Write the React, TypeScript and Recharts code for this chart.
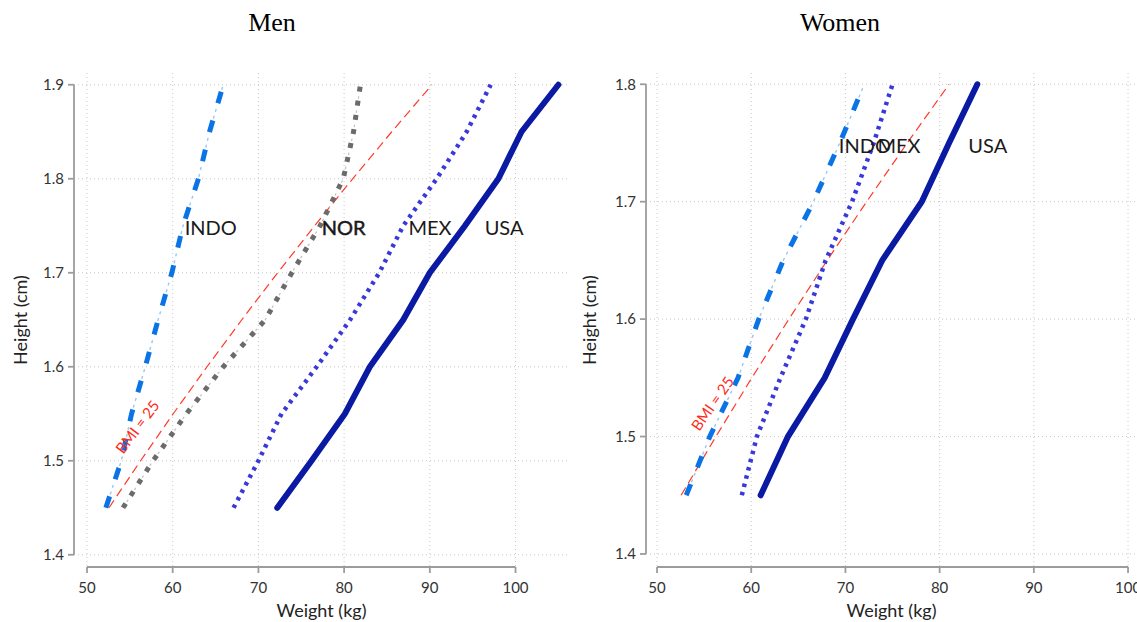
import React from 'react';
import { LineChart, Line, XAxis, YAxis, CartesianGrid, ReferenceDot } from 'recharts';

// ---------- data ----------
const MEN_HEIGHTS = [1.45, 1.5, 1.55, 1.6, 1.65, 1.7, 1.75, 1.8, 1.85, 1.9];
const MEN_INDO = [52.2, 54.0, 55.2, 56.8, 58.3, 59.9, 61.2, 63.0, 64.3, 65.9];
const MEN_NOR = [54.2, 57.7, 61.6, 65.9, 70.8, 73.9, 77.2, 79.9, 81.1, 81.9];
const MEN_MEX = [67.1, 70.0, 72.7, 76.8, 80.7, 84.1, 86.9, 90.8, 94.3, 97.1];
const MEN_USA = [72.2, 76.2, 80.1, 83.0, 86.9, 90.0, 94.1, 98.0, 100.7, 105.0];
const MEN_BMI25 = [52.56, 56.25, 60.06, 64.0, 68.06, 72.25, 76.56, 81.0, 85.56, 90.25];

const WOMEN_HEIGHTS = [1.45, 1.5, 1.55, 1.6, 1.65, 1.7, 1.75, 1.8];
const WOMEN_INDO = [53.1, 55.6, 58.6, 60.8, 63.4, 66.6, 69.4, 72.0];
const WOMEN_MEX = [59.0, 60.6, 63.1, 65.8, 67.9, 70.7, 73.0, 75.0];
const WOMEN_USA = [61.0, 63.9, 67.8, 70.8, 73.9, 78.1, 81.0, 84.0];
const WOMEN_BMI25 = [52.56, 56.25, 60.06, 64.0, 68.06, 72.25, 76.56, 81.0];

const WEIGHT_TICKS = [50, 60, 70, 80, 90, 100];
const MEN_HEIGHT_TICKS = [1.4, 1.5, 1.6, 1.7, 1.8, 1.9];
const WOMEN_HEIGHT_TICKS = [1.4, 1.5, 1.6, 1.7, 1.8];

const MEN_LABELS = ['INDO', 'NOR', 'MEX', 'USA'];
const MEN_LABEL_W = [61.4, 77.4, 87.5, 96.4];
const WOMEN_LABELS = ['INDO', 'MEX', 'USA'];
const WOMEN_LABEL_W = [69.3, 73.4, 83.05];
const LABEL_H = 1.7475;

const BMI_TEXT = 'BMI = 25';
const MEN_BMI_LABEL = { w: 55.9, h: 1.536 };
const WOMEN_BMI_LABEL = { w: 55.9, h: 1.528 };

const TITLES = ['Men', 'Women'];
const X_TITLE = 'Weight (kg)';
const Y_TITLE = 'Height (cm)';

// ---------- styles ----------
const SANS = "Lato, 'Open Sans', 'DejaVu Sans', sans-serif";
const SERIF = "'Liberation Serif', 'Times New Roman', serif";
const AXIS_GRAY = '#9c9c9c';

type Stroke = { stroke: string; width: number; dash?: string; cap?: 'butt' | 'round' };
const STYLES: Record<string, Stroke[]> = {
  AXIS: [{ stroke: AXIS_GRAY, width: 1.8 }],
  BMI: [{ stroke: '#ff3a2a', width: 1.2, dash: '9 5' }],
  INDO: [
    { stroke: '#0a74e6', width: 5, dash: '12 18' },
    { stroke: '#9ac6f6', width: 1.4, dash: '0 14 3 4 3 6' },
  ],
  NOR: [
    { stroke: '#6b6b6b', width: 5, dash: '5 9.3' },
    { stroke: '#c0c0c0', width: 1.2, dash: '0 7 2.5 4.8' },
  ],
  MEX: [{ stroke: '#3838dc', width: 4.5, dash: '3.5 5' }],
  USA: [{ stroke: '#0a1aa3', width: 6, cap: 'round' }],
};

const toSeries = (heights: number[], weights: number[]) =>
  heights.map((h, i) => ({ w: weights[i], h }));

type Pt = { w: number; h: number };
type PanelProps = {
  width: number;
  marginRight: number;
  yAxisWidth: number;
  xDomain: [number, number];
  yDomain: [number, number];
  yTicks: number[];
  yLabelOffset: number;
  series: { key: string; data: Pt[] }[];
  labels: string[];
  labelW: number[];
  bmiLabel: Pt;
  bmiAngle: number;
};

function Panel(p: PanelProps) {
  const tickStyle = { fill: '#333', fontSize: 15, fontFamily: SANS };
  // Stata-style detached axis lines, spanning the first to the last tick
  const xAxisLine: Pt[] = [
    { w: WEIGHT_TICKS[0], h: p.yDomain[0] },
    { w: WEIGHT_TICKS[WEIGHT_TICKS.length - 1], h: p.yDomain[0] },
  ];
  const yAxisLine: Pt[] = [
    { w: p.xDomain[0], h: p.yTicks[0] },
    { w: p.xDomain[0], h: p.yTicks[p.yTicks.length - 1] },
  ];
  const all = [
    { key: 'AXIS', data: xAxisLine },
    { key: 'AXIS', data: yAxisLine },
    ...p.series,
  ];
  return (
    <LineChart
      width={p.width}
      height={622}
      margin={{ top: 73, right: p.marginRight, bottom: 0, left: 0 }}
    >
      <CartesianGrid stroke="#c9c9c9" strokeDasharray="1 3" strokeWidth={1} syncWithTicks />
      <XAxis
        dataKey="w"
        type="number"
        domain={p.xDomain}
        ticks={WEIGHT_TICKS}
        interval={0}
        height={55}
        axisLine={false}
        tickLine={{ stroke: AXIS_GRAY, strokeWidth: 1.8 }}
        tickSize={6}
        tickMargin={9}
        tick={tickStyle}
        label={{
          value: X_TITLE,
          position: 'insideBottom',
          offset: 5,
          fill: '#222',
          fontSize: 18,
          fontFamily: SANS,
        }}
      />
      <YAxis
        dataKey="h"
        type="number"
        domain={p.yDomain}
        ticks={p.yTicks}
        interval={0}
        width={p.yAxisWidth}
        axisLine={false}
        tickLine={{ stroke: AXIS_GRAY, strokeWidth: 1.8 }}
        tickSize={6}
        tickMargin={4}
        tick={tickStyle}
        tickFormatter={(v: number) => v.toFixed(1)}
        label={{
          value: Y_TITLE,
          angle: -90,
          position: 'insideLeft',
          offset: p.yLabelOffset,
          style: { textAnchor: 'middle' },
          fill: '#222',
          fontSize: 18,
          fontFamily: SANS,
        }}
      />
      {all.flatMap((s, i) =>
        STYLES[s.key].map((st, j) => (
          <Line
            key={`${s.key}-${i}-${j}`}
            data={s.data}
            dataKey="h"
            type="linear"
            stroke={st.stroke}
            strokeWidth={st.width}
            strokeDasharray={st.dash}
            strokeLinecap={st.cap || 'butt'}
            dot={false}
            activeDot={false}
            isAnimationActive={false}
          />
        ))
      )}
      {p.labels.map((name, i) => (
        <ReferenceDot
          key={name}
          x={p.labelW[i]}
          y={LABEL_H}
          r={0}
          fill="none"
          stroke="none"
          label={{
            value: name,
            position: 'right',
            offset: 0,
            fill: '#1a1a1a',
            fontSize: 20,
            fontFamily: SANS,
            ...(name === 'NOR' ? { stroke: '#1a1a1a', strokeWidth: 0.5 } : {}),
          }}
        />
      ))}
      <ReferenceDot
        x={p.bmiLabel.w}
        y={p.bmiLabel.h}
        r={0}
        fill="none"
        stroke="none"
        label={{
          value: BMI_TEXT,
          position: 'center',
          angle: p.bmiAngle,
          fill: '#ff2a1a',
          fontSize: 15,
          fontFamily: SANS,
        }}
      />
    </LineChart>
  );
}

export default function App() {
  const menSeries = [
    { key: 'BMI', data: toSeries(MEN_HEIGHTS, MEN_BMI25) },
    { key: 'INDO', data: toSeries(MEN_HEIGHTS, MEN_INDO) },
    { key: 'NOR', data: toSeries(MEN_HEIGHTS, MEN_NOR) },
    { key: 'MEX', data: toSeries(MEN_HEIGHTS, MEN_MEX) },
    { key: 'USA', data: toSeries(MEN_HEIGHTS, MEN_USA) },
  ];
  const womenSeries = [
    { key: 'BMI', data: toSeries(WOMEN_HEIGHTS, WOMEN_BMI25) },
    { key: 'INDO', data: toSeries(WOMEN_HEIGHTS, WOMEN_INDO) },
    { key: 'MEX', data: toSeries(WOMEN_HEIGHTS, WOMEN_MEX) },
    { key: 'USA', data: toSeries(WOMEN_HEIGHTS, WOMEN_USA) },
  ];
  return (
    <div
      style={{
        position: 'absolute',
        left: 0,
        top: 0,
        width: 1137,
        height: 622,
        overflow: 'hidden',
        background: '#fff',
      }}
    >
      <div style={{ position: 'absolute', left: 0, top: 0 }}>
        <Panel
          width={575}
          marginRight={6}
          yAxisWidth={74}
          xDomain={[48.483, 106.24]}
          yDomain={[1.387, 1.9125]}
          yTicks={MEN_HEIGHT_TICKS}
          yLabelOffset={21}
          series={menSeries}
          labels={MEN_LABELS}
          labelW={MEN_LABEL_W}
          bmiLabel={MEN_BMI_LABEL}
          bmiAngle={-53}
        />
      </div>
      <div style={{ position: 'absolute', left: 575, top: 0 }}>
        <Panel
          width={562}
          marginRight={0}
          yAxisWidth={71}
          xDomain={[48.83, 100.95]}
          yDomain={[1.3889, 1.8096]}
          yTicks={WOMEN_HEIGHT_TICKS}
          yLabelOffset={15}
          series={womenSeries}
          labels={WOMEN_LABELS}
          labelW={WOMEN_LABEL_W}
          bmiLabel={WOMEN_BMI_LABEL}
          bmiAngle={-55}
        />
      </div>
      <svg
        width={1137}
        height={622}
        style={{ position: 'absolute', left: 0, top: 0, pointerEvents: 'none' }}
      >
        <text x={272} y={31} textAnchor="middle" fontFamily={SERIF} fontSize={26} fill="#000">
          {TITLES[0]}
        </text>
        <text x={840} y={31} textAnchor="middle" fontFamily={SERIF} fontSize={26} fill="#000">
          {TITLES[1]}
        </text>
      </svg>
    </div>
  );
}
